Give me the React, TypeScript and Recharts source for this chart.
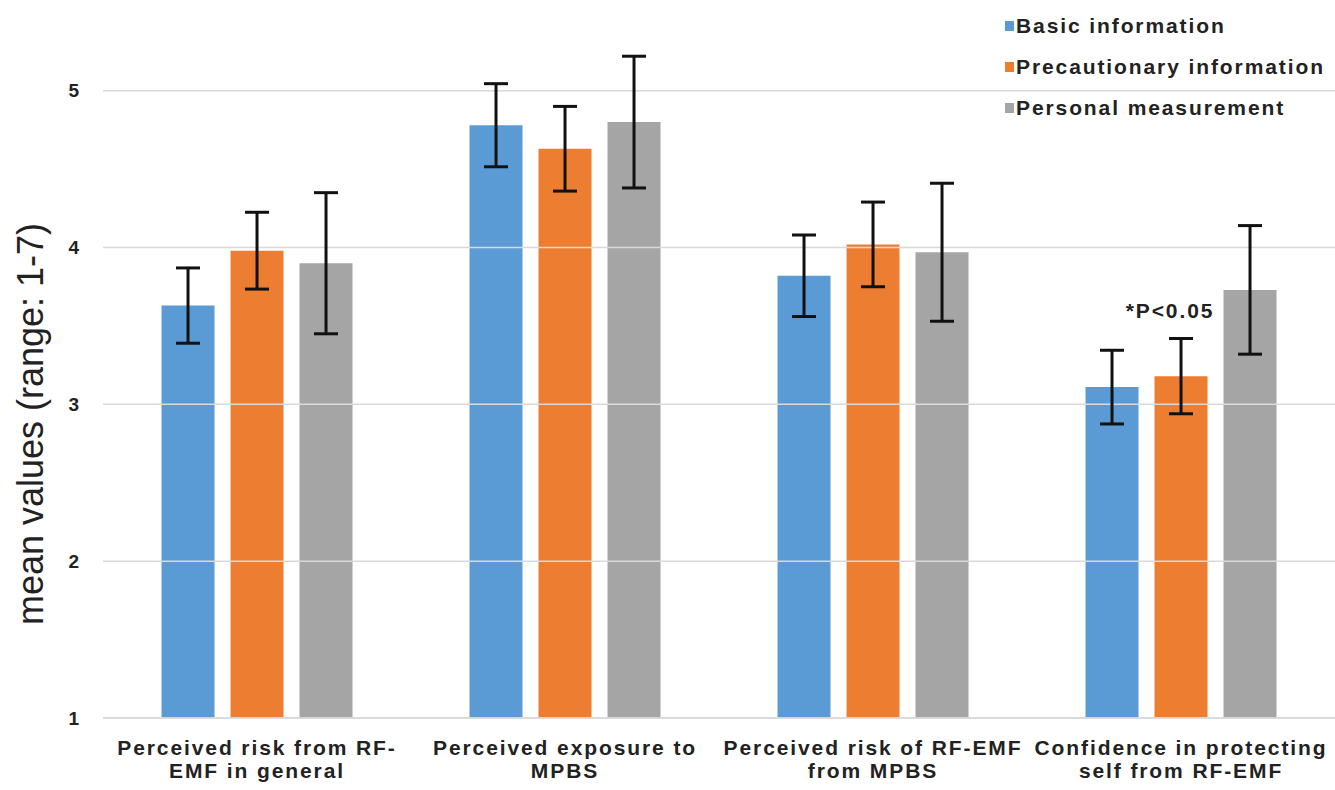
import React from "react";
import {
  BarChart,
  Bar,
  XAxis,
  YAxis,
  ErrorBar,
  ReferenceDot,
  ReferenceLine,
} from "recharts";

const categories = [
  "Perceived risk from RF-EMF in general",
  "Perceived exposure to MPBS",
  "Perceived risk of RF-EMF from MPBS",
  "Confidence in protecting self from RF-EMF",
];
const categoryLines = [
  ["Perceived risk from RF-", "EMF in general"],
  ["Perceived exposure to", "MPBS"],
  ["Perceived risk of RF-EMF", "from MPBS"],
  ["Confidence in protecting", "self from RF-EMF"],
];

const seriesNames = ["Basic information", "Precautionary information", "Personal measurement"];
const seriesColors = ["#5b9bd5", "#ed7d31", "#a5a5a5"];

const basicValues = [3.63, 4.78, 3.82, 3.11];
const basicErrors = [0.24, 0.265, 0.26, 0.235];
const precautionaryValues = [3.98, 4.63, 4.02, 3.18];
const precautionaryErrors = [0.245, 0.27, 0.27, 0.24];
const personalValues = [3.9, 4.8, 3.97, 3.73];
const personalErrors = [0.45, 0.42, 0.44, 0.41];

const yTicks = [1, 2, 3, 4, 5];
const yLabel = "mean values (range: 1-7)";

const annotationCategory = categories[3];
const annotationValue = 3.6;
const annotationText = "*P<0.05";

const data = categories.map((c, i) => ({
  category: c,
  basic: basicValues[i],
  basicErr: basicErrors[i],
  precautionary: precautionaryValues[i],
  precautionaryErr: precautionaryErrors[i],
  personal: personalValues[i],
  personalErr: personalErrors[i],
}));

const FONT = "'Liberation Sans', Arial, sans-serif";
const TEXT_COLOR = "#222";

const XTick = (props: any) => {
  const { x, y, payload } = props;
  const idx = categories.indexOf(payload.value);
  const lines = idx >= 0 ? categoryLines[idx] : [String(payload.value)];
  return (
    <g>
      <text
        x={x}
        y={y}
        textAnchor="middle"
        fontFamily={FONT}
        fontWeight="bold"
        fontSize={21}
        letterSpacing={1.9}
        fill={TEXT_COLOR}
      >
        {lines.map((l, i) => (
          <tspan key={i} x={x} dy={i === 0 ? 37 : 23}>
            {l}
          </tspan>
        ))}
      </text>
    </g>
  );
};

const keys = ["basic", "precautionary", "personal"];

export default function App() {
  return (
    <div style={{ position: "absolute", left: 0, top: 0, width: 1335, height: 790, background: "#fff" }}>
      <BarChart
        width={1335}
        height={790}
        data={data}
        margin={{ top: 28, right: 0, bottom: 0, left: 0 }}
        barCategoryGap="19%"
        barGap={16}
      >
        {yTicks.map((t) => (
          <ReferenceLine key={t} y={t} stroke="#d9d9d9" strokeWidth={1.5} />
        ))}
        <XAxis
          dataKey="category"
          axisLine={{ stroke: "#d9d9d9", strokeWidth: 1.5 }}
          tickLine={false}
          tickSize={0}
          tickMargin={0}
          interval={0}
          tick={<XTick />}
          height={72}
        />
        <YAxis
          width={103}
          domain={[1, 5.4]}
          ticks={yTicks}
          allowDataOverflow
          axisLine={false}
          tickLine={false}
          tickSize={6}
          tickMargin={18}
          tick={{ fontFamily: FONT, fontWeight: "bold", fontSize: 19, fill: TEXT_COLOR }}
          label={{
            value: yLabel,
            angle: -90,
            position: "center",
            dx: -21,
            dy: 51,
            style: { fontFamily: FONT, fontSize: 36, fill: TEXT_COLOR, textAnchor: "middle" },
          }}
        />
        {keys.map((k, i) => (
          <Bar key={k} dataKey={k} name={seriesNames[i]} fill={seriesColors[i]} isAnimationActive={false}>
            <ErrorBar
              dataKey={`${k}Err`}
              direction="y"
              width={12}
              strokeWidth={3}
              stroke="#111"
              isAnimationActive={false}
            />
          </Bar>
        ))}
        <ReferenceDot
          x={annotationCategory}
          y={annotationValue}
          r={0}
          fill="none"
          stroke="none"
          label={{
            value: annotationText,
            position: "center",
            dx: -11,
            style: {
              fontFamily: FONT,
              fontWeight: "bold",
              fontSize: 21,
              letterSpacing: 1.9,
              fill: TEXT_COLOR,
            },
          }}
        />
      </BarChart>
      <div
        style={{
          position: "absolute",
          left: 1005,
          top: 5,
          fontFamily: FONT,
          fontWeight: "bold",
          fontSize: 21,
          letterSpacing: 1.9,
          color: TEXT_COLOR,
        }}
      >
        {seriesNames.map((n, i) => (
          <div key={n} style={{ display: "flex", alignItems: "center", height: 41, whiteSpace: "nowrap" }}>
            <span style={{ display: "inline-block", width: 9, height: 10, background: seriesColors[i], marginRight: 2 }} />
            <span>{n}</span>
          </div>
        ))}
      </div>
    </div>
  );
}
